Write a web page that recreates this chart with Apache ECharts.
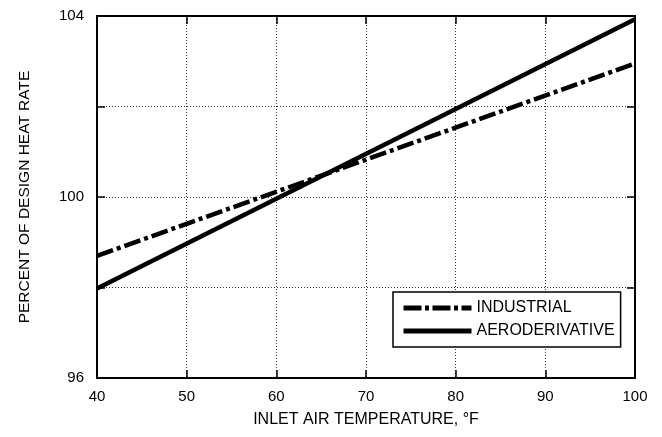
<!DOCTYPE html>
<html>
<head>
<meta charset="utf-8">
<script src="https://cdn.jsdelivr.net/npm/echarts@6/dist/echarts.min.js"></script>
<style>
  html, body { margin: 0; padding: 0; background: #fff; }
  #main { width: 662px; height: 437px; }
</style>
</head>
<body>
<div id="main"></div>
<script>
// inlet temperature (°F) and percent of design heat rate
var temps = [40, 100];
var industrial = [98.7, 102.95];
var aeroderivative = [97.98, 103.93];
var yLabelsShown = [96, 100, 104];

var font = "Liberation Sans, Arial, sans-serif";
var dashDot = [17, 4, 4, 4];

function pairs(xs, ys) {
  return xs.map(function (x, i) { return [x, ys[i]]; });
}

var chartDom = document.getElementById("main");
var myChart = echarts.init(chartDom);
var option;

var tick = { show: true, inside: true, length: 8, lineStyle: { color: "#000", width: 1.5 } };
var border = { show: true, lineStyle: { color: "#000", width: 2 } };
var grid = { show: true, lineStyle: { color: "#333", type: [1, 2], width: 1 } };

option = {
  animation: false,
  backgroundColor: "#fff",
  grid: { left: 97, right: 27, top: 16, bottom: 59 },
  legend: {
    orient: "vertical",
    left: 393,
    top: 292,
    padding: [8, 6, 8, 8],
    itemGap: 7,
    itemWidth: 68,
    itemHeight: 14,
    borderColor: "#000",
    borderWidth: 1.5,
    backgroundColor: "#fff",
    itemStyle: { opacity: 0 },
    textStyle: { fontFamily: font, fontSize: 16, color: "#000" },
    data: [
      { name: "INDUSTRIAL", lineStyle: { width: 5, type: [18, 3.5, 4, 3.5], cap: "butt" } },
      { name: "AERODERIVATIVE", lineStyle: { width: 5, type: "solid" } }
    ]
  },
  xAxis: [
    {
      type: "value",
      min: 40,
      max: 100,
      interval: 10,
      name: "INLET AIR TEMPERATURE, °F",
      nameLocation: "middle",
      nameGap: 34,
      nameTextStyle: { fontFamily: font, fontSize: 16, color: "#000" },
      axisLine: border,
      axisTick: tick,
      splitLine: grid,
      axisLabel: { fontFamily: font, fontSize: 15, color: "#000", margin: 11 }
    },
    {
      type: "value",
      position: "top",
      min: 40,
      max: 100,
      interval: 10,
      axisLine: border,
      axisTick: tick,
      splitLine: { show: false },
      axisLabel: { show: false }
    }
  ],
  yAxis: [
    {
      type: "value",
      min: 96,
      max: 104,
      interval: 2,
      name: "PERCENT OF DESIGN HEAT RATE",
      nameLocation: "middle",
      nameGap: 64,
      nameTextStyle: { fontFamily: font, fontSize: 15.5, color: "#000" },
      axisLine: border,
      axisTick: tick,
      splitLine: grid,
      axisLabel: {
        fontFamily: font,
        fontSize: 15,
        color: "#000",
        margin: 13,
        formatter: function (v) {
          return yLabelsShown.indexOf(v) >= 0 ? String(v) : "";
        }
      }
    },
    {
      type: "value",
      position: "right",
      min: 96,
      max: 104,
      interval: 2,
      axisLine: border,
      axisTick: tick,
      splitLine: { show: false },
      axisLabel: { show: false }
    }
  ],
  series: [
    {
      name: "INDUSTRIAL",
      type: "line",
      data: pairs(temps, industrial),
      showSymbol: false,
      symbol: "none",
      itemStyle: { color: "#000" },
      lineStyle: { color: "#000", width: 4.5, type: dashDot, cap: "butt" }
    },
    {
      name: "AERODERIVATIVE",
      type: "line",
      data: pairs(temps, aeroderivative),
      showSymbol: false,
      symbol: "none",
      itemStyle: { color: "#000" },
      lineStyle: { color: "#000", width: 4.5, type: "solid" }
    }
  ]
};

option && myChart.setOption(option);
</script>
</body>
</html>
